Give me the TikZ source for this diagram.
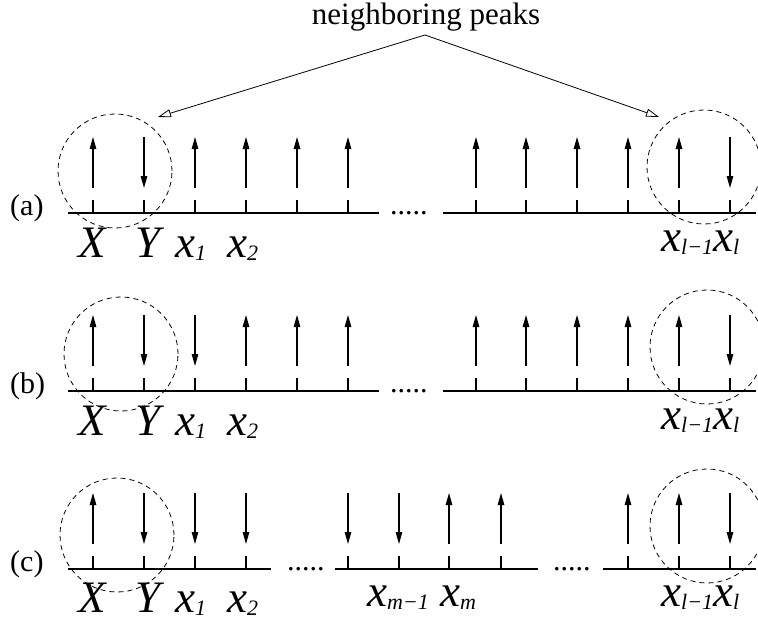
\documentclass[tikz,border=0pt]{standalone}
\usepackage{fontspec}
\setmainfont{Liberation Serif}
\usetikzlibrary{arrows.meta}
\tikzset{
  axisline/.style={line width=1.2pt},
  tickline/.style={line width=1.2pt},
  peak/.style={line width=1.2pt,-{Triangle[length=12pt,width=6.5pt]}},
  peakcircle/.style={draw,dash pattern=on 5pt off 4pt,line width=0.8pt,circle,minimum size=114pt,inner sep=0pt},
  pointer/.style={line width=0.8pt,-{Triangle[open,length=13pt,width=8pt,fill=white]}},
  biglab/.style={anchor=base west,inner sep=0pt,font=\fontsize{45}{45}\selectfont\itshape},
  txt/.style={anchor=base west,inner sep=0pt,font=\fontsize{30}{30}\selectfont},
}
\newcommand\sublab[2]{#1\raisebox{-3.5pt}{\fontsize{22}{22}\selectfont #2}}
\newcommand\peakup[2]{%
  \draw[tickline] (#1,#2) -- (#1,#2-13);
  \draw[peak] (#1,#2-25) -- (#1,#2-76);}
\newcommand\peakdown[2]{%
  \draw[tickline] (#1,#2) -- (#1,#2-13);
  \draw[peak] (#1,#2-76) -- (#1,#2-25);}
\begin{document}
\begin{tikzpicture}[x=1pt,y=-1pt]
\useasboundingbox (0,0) rectangle (758,618);

% title and pointers
\node[anchor=base,inner sep=0pt,font=\fontsize{31}{31}\selectfont] (title) at (426,25) {neighboring peaks};
\coordinate (apex) at (425,35);
\coordinate (tipL) at (158,117);
\coordinate (tipR) at (659,117);
\draw[pointer] (apex) -- (tipL);
\draw[pointer] (apex) -- (tipR);

% ---------- row (a) ----------
\node[txt] (la) at (10,215) {(a)};
\draw[axisline] (68,213) -- (379,213);
\draw[axisline] (443,213) -- (756,213);
\node[txt] (da) at (390,214) {.....};
\foreach \p in {93,195,246,297,348,476,526,577,628,679} {\peakup{\p}{213}}
\foreach \p in {144,730} {\peakdown{\p}{213}}
\node[peakcircle] (cal) at (115,171) {};
\node[peakcircle] (car) at (704,167) {};
\node[biglab] (aX) at (78,257) {X};
\node[biglab] (aY) at (135,257) {Y};
\node[biglab] (ax1) at (175,257) {\sublab{x}{1}};
\node[biglab] (ax2) at (227,257) {\sublab{x}{2}};
\node[biglab] (axl) at (661,251) {\sublab{x}{l−1}\sublab{x}{l}};

% ---------- row (b) ----------
\node[txt] (lb) at (10,393) {(b)};
\draw[axisline] (68,391) -- (379,391);
\draw[axisline] (443,391) -- (756,391);
\node[txt] (db) at (390,392) {.....};
\foreach \p in {93,246,297,348,476,526,577,628,679} {\peakup{\p}{391}}
\foreach \p in {144,195,730} {\peakdown{\p}{391}}
\node[peakcircle] (cbl) at (121,354) {};
\node[peakcircle] (cbr) at (707,347) {};
\node[biglab] (bX) at (78,435) {X};
\node[biglab] (bY) at (135,435) {Y};
\node[biglab] (bx1) at (175,435) {\sublab{x}{1}};
\node[biglab] (bx2) at (227,435) {\sublab{x}{2}};
\node[biglab] (bxl) at (661,429) {\sublab{x}{l−1}\sublab{x}{l}};

% ---------- row (c) ----------
\node[txt] (lc) at (10,571) {(c)};
\draw[axisline] (68,569) -- (271,569);
\draw[axisline] (335,569) -- (538,569);
\draw[axisline] (603,569) -- (756,569);
\node[txt] (dc1) at (287,570) {.....};
\node[txt] (dc2) at (553,570) {.....};
\foreach \p in {93,449,501,628,679} {\peakup{\p}{569}}
\foreach \p in {144,195,246,348,399,730} {\peakdown{\p}{569}}
\node[peakcircle] (ccl) at (117,535) {};
\node[peakcircle] (ccr) at (707,526) {};
\node[biglab] (cX) at (78,612) {X};
\node[biglab] (cY) at (135,612) {Y};
\node[biglab] (cx1) at (175,612) {\sublab{x}{1}};
\node[biglab] (cx2) at (227,612) {\sublab{x}{2}};
\node[biglab] (cxm1) at (367,606) {\sublab{x}{m−1}};
\node[biglab] (cxm) at (440,606) {\sublab{x}{m}};
\node[biglab] (cxl) at (661,606) {\sublab{x}{l−1}\sublab{x}{l}};
\end{tikzpicture}
\end{document}
